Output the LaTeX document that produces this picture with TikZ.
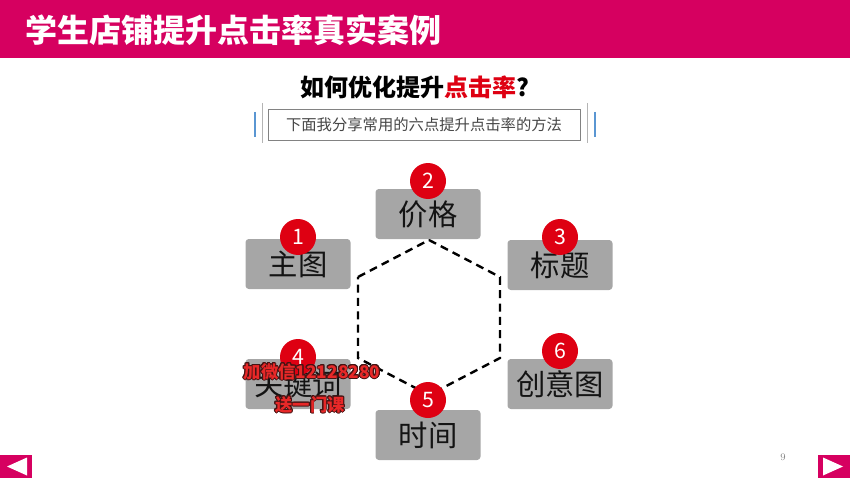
\documentclass[tikz,border=0pt]{standalone}
\usepackage{fontspec}
\usepackage{contour}
\contourlength{0.7pt}
\newfontfamily\cjk{Noto Sans CJK SC}
\definecolor{rose}{RGB}{214,0,96}
\definecolor{hotred}{RGB}{222,0,18}
\definecolor{boxgrey}{RGB}{166,166,166}
\definecolor{linegrey}{RGB}{130,130,130}
\definecolor{barblue}{RGB}{90,150,210}
\definecolor{inkgrey}{RGB}{70,70,70}
\definecolor{stampred}{RGB}{232,40,40}
\definecolor{stampdark}{RGB}{70,20,20}

\begin{document}
\begin{tikzpicture}[x=0.75pt,y=0.75pt,yscale=-1,xscale=1,
  item/.style={fill=boxgrey, rounded corners=2.5pt, minimum width=78.75pt, minimum height=37.5pt,
    inner sep=0pt, font=\cjk\fontsize{22}{22}\selectfont, text={rgb,255:red,20;green,20;blue,20}},
  badge/.style={circle, fill=hotred, minimum size=27pt, inner sep=0pt,
    font=\cjk\fontsize{16}{16}\selectfont, text=white},
  hexline/.style={line width=1.8pt, dash pattern=on 6pt off 4pt},
  stamp/.style={inner sep=0pt, font=\cjk\bfseries\fontsize{13}{13}\selectfont, text=stampred}]
\useasboundingbox (0,0) rectangle (850,478);

%Shape: Header bar
\fill [rose] (0,0) rectangle (850,58);
% Text Node
\node [anchor=west, inner sep=0pt, text=white, font=\cjk\bfseries\fontsize{24}{24}\selectfont] (title) at (25,30) {学生店铺提升点击率真实案例};

% Text Node
\node [inner sep=0pt, font=\cjk\bfseries\fontsize{18}{18}\selectfont] (head) at (415,87) {如何优化提升\textcolor{hotred}{点击率}?};
% Text Node
\node [draw=linegrey, line width=0.6pt, minimum width=234pt, minimum height=23.25pt, inner sep=0pt,
  text=inkgrey, font=\cjk\fontsize{11.5}{11.5}\selectfont] (sub) at (424,124.5) {下面我分享常用的六点提升点击率的方法};
%Straight Lines
\draw [barblue, line width=1.5] (255,112) -- (255,137);
\draw [linegrey!60, line width=0.5] (262,103) -- (262,143);
\draw [linegrey!60, line width=0.5] (587,103) -- (587,143);
\draw [barblue, line width=1.5] (595,112) -- (595,137);

%Shape: Hexagon
\coordinate (h1) at (358,277);
\coordinate (h2) at (429,240);
\coordinate (h3) at (500,277);
\coordinate (h4) at (500,358);
\coordinate (h5) at (429,395);
\coordinate (h6) at (358,358);
\draw [hexline] (h1) -- (h2) -- (h3) -- (h4) -- (h5) -- (h6) -- cycle;

% Boxes
\node [item] (tu) at (298,264) {主图};
\node [item] (price) at (428,214) {价格};
\node [item] (tit) at (560,265) {标题};
\node [item] (key) at (298,384) {关键词};
\node [item] (time) at (428,435) {时间};
\node [item] (idea) at (560,384) {创意图};

% Badges
\node [badge] (n1) at (298,237) {1};
\node [badge] (n2) at (428,181) {2};
\node [badge] (n3) at (560,237) {3};
\node [badge] (n4) at (298,357) {4};
\node [badge] (n5) at (428,400) {5};
\node [badge] (n6) at (560,351) {6};

% Text Node
\node [stamp] (wm1) at (312,372) {\contour{stampdark}{加微信12128280}};
\node [stamp] (wm2) at (310,405) {\contour{stampdark}{送一门课}};

% Text Node
\node [inner sep=0pt, text=linegrey, font=\fontsize{7.5}{7.5}\selectfont] (page) at (783,457) {9};

%Shape: Nav buttons
\fill [rose] (0,455) rectangle (32,478);
\fill [white] (7,466.5) -- (27,457.5) -- (27,475.5) -- cycle;
\fill [rose] (818,455) rectangle (850,478);
\fill [white] (843,466.5) -- (823,457.5) -- (823,475.5) -- cycle;

\end{tikzpicture}
\end{document}
